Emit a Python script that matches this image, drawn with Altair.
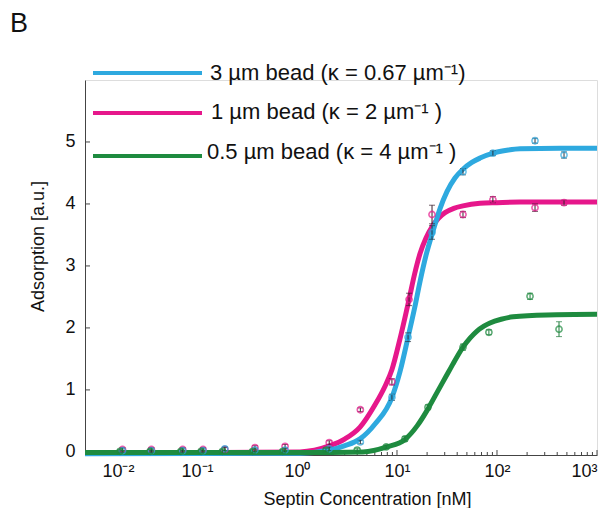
import altair as alt
import pandas as pd

# ---------------- data ----------------
series_names = ["3 µm bead", "1 µm bead", "0.5 µm bead"]
series_colors = ["#2EA9DF", "#E6178B", "#1E8B3F"]
errbar_colors = ["#2b3440", "#3b1f2c", "#1E7A3A"]
legend_labels = ["3 µm bead (κ = 0.67 µm⁻¹)", "1 µm bead (κ = 2 µm⁻¹ )", "0.5 µm bead (κ = 4 µm⁻¹ )"]

# measured points: septin concentration [nM], adsorption [a.u.], error
conc_3um = [0.018, 0.035, 0.072, 0.115, 0.19, 0.38, 0.76, 2.1, 4.3, 8.9, 12.9, 22.4, 45.7, 91, 240, 468]
ads_3um = [0.02, 0.02, 0.02, 0.02, 0.05, 0.03, 0.03, 0.05, 0.16, 0.88, 1.85, 3.54, 4.52, 4.82, 5.02, 4.79]
err_3um = [0.03, 0.03, 0.03, 0.03, 0.03, 0.03, 0.03, 0.03, 0.03, 0.05, 0.07, 0.11, 0.05, 0.04, 0.04, 0.05]

conc_1um = [0.018, 0.035, 0.072, 0.115, 0.19, 0.38, 0.76, 2.1, 4.3, 8.9, 13.2, 22.4, 45.7, 91, 240, 468]
ads_1um = [0.04, 0.04, 0.04, 0.04, 0.04, 0.07, 0.09, 0.15, 0.68, 1.13, 2.46, 3.83, 3.83, 4.07, 3.94, 4.02]
err_1um = [0.03, 0.03, 0.03, 0.03, 0.03, 0.03, 0.03, 0.03, 0.03, 0.05, 0.10, 0.15, 0.05, 0.05, 0.06, 0.04]

conc_05um = [0.017, 0.034, 0.069, 0.11, 0.18, 0.36, 0.72, 1.95, 4.0, 7.8, 12.0, 20.4, 45.7, 83, 214, 417]
ads_05um = [0.01, 0.01, 0.01, 0.01, 0.01, 0.01, 0.01, 0.03, 0.03, 0.08, 0.21, 0.72, 1.69, 1.93, 2.51, 1.98]
err_05um = [0.03, 0.03, 0.03, 0.03, 0.03, 0.03, 0.03, 0.03, 0.03, 0.03, 0.04, 0.04, 0.05, 0.04, 0.05, 0.12]

# fitted curves
fit_x_3um = [0.0076, 1.07, 2.14, 3.02, 4.27, 6.03, 8.91, 10.7, 12.9, 15.0, 17.0, 19.5, 22.9, 27.0, 31.6, 38.0, 45.7, 56.0, 67.6, 91.2, 130, 170, 427, 1000]
fit_y_3um = [-0.03, -0.02, 0.03, 0.10, 0.21, 0.45, 0.88, 1.29, 1.85, 2.32, 2.75, 3.17, 3.56, 3.93, 4.20, 4.42, 4.56, 4.67, 4.74, 4.82, 4.87, 4.89, 4.90, 4.90]

fit_x_1um = [0.0076, 1.07, 2.14, 3.02, 4.27, 6.03, 7.59, 8.91, 10.7, 13.2, 15.0, 17.0, 19.5, 22.4, 26.0, 30.2, 37.0, 45.7, 67.6, 100, 170, 1000]
fit_y_1um = [-0.02, 0.0, 0.10, 0.21, 0.40, 0.76, 1.06, 1.33, 1.82, 2.46, 2.87, 3.20, 3.45, 3.63, 3.77, 3.86, 3.93, 3.97, 4.01, 4.02, 4.03, 4.03]

fit_x_05um = [0.0076, 1.07, 4.57, 7.94, 12.0, 15.9, 20.0, 24.0, 28.8, 32.5, 36.3, 40.7, 45.7, 54.0, 63.1, 74.0, 85.1, 110, 145, 316, 1000]
fit_y_05um = [-0.01, -0.01, 0.0, 0.08, 0.20, 0.42, 0.67, 0.90, 1.13, 1.28, 1.42, 1.56, 1.69, 1.84, 1.95, 2.03, 2.08, 2.14, 2.18, 2.21, 2.22]

# axis ticks
x_major_ticks = [0.01, 0.1, 1, 10, 100, 1000]
x_minor_ticks = [0.008, 0.009] + [m * d for d in [0.01, 0.1, 1, 10, 100] for m in range(2, 10)]
y_ticks = [0, 1, 2, 3, 4, 5]

# ---------------- chart ----------------
W, H = 512, 375
FONT = "Liberation Sans"
xscale = alt.Scale(type="log", domain=[0.00759, 1000], nice=False)
yscale = alt.Scale(domain=[-0.05, 6.0], nice=False, zero=False)

label_expr = ("datum.value < 0.05 ? '10⁻²' : datum.value < 0.5 ? '10⁻¹' : "
              "datum.value < 5 ? '10⁰' : datum.value < 50 ? '10¹' : "
              "datum.value < 500 ? '10²' : '10³'")

x_axis = alt.Axis(values=x_major_ticks, labelExpr=label_expr, ticks=False, tickSize=0,
                  grid=False, domain=True, domainColor="#444", domainWidth=1,
                  labelPadding=7, labelFontSize=18, labelColor="#111", labelFont=FONT,
                  labelOffset={"condition": {"test": "datum.value < 0.015", "value": 21}, "value": 0},
                  title="Septin Concentration [nM]", titleFontSize=18, titleFontWeight="normal",
                  titleFont=FONT, titleColor="#111", titleX=282, titleY=44, titleBaseline="middle")
y_axis = alt.Axis(values=y_ticks, format="d", ticks=False, tickSize=0, grid=False, domain=True,
                  domainColor="#444", domainWidth=1, labelPadding=10, labelFontSize=18,
                  labelColor="#111", labelFont=FONT,
                  title="Adsorption [a.u.]", titleFontSize=18, titleFontWeight="normal",
                  titleFont=FONT, titleColor="#111", titleX=-47, titleY=166,
                  titleBaseline="middle", titleAngle=270)

fits = [(fit_x_3um, fit_y_3um), (fit_x_1um, fit_y_1um), (fit_x_05um, fit_y_05um)]
pts = [(conc_3um, ads_3um, err_3um), (conc_1um, ads_1um, err_1um), (conc_05um, ads_05um, err_05um)]

layers = []

# axes anchor layer (invisible) carrying axis definitions
anchor = alt.Chart(pd.DataFrame({"x": [1.0], "y": [0.0]})).mark_point(opacity=0).encode(
    x=alt.X("x:Q", scale=xscale, axis=x_axis),
    y=alt.Y("y:Q", scale=yscale, axis=y_axis),
)
layers.append(anchor)

# manual inward ticks
xt_major = alt.Chart(pd.DataFrame({"x": x_major_ticks})).mark_rule(color="#444", strokeWidth=1).encode(
    x=alt.X("x:Q", scale=xscale), y=alt.value(H), y2=alt.value(H - 5))
xt_minor = alt.Chart(pd.DataFrame({"x": x_minor_ticks})).mark_rule(color="#444", strokeWidth=1).encode(
    x=alt.X("x:Q", scale=xscale), y=alt.value(H), y2=alt.value(H - 3))
yt = alt.Chart(pd.DataFrame({"y": y_ticks})).mark_rule(color="#444", strokeWidth=1).encode(
    y=alt.Y("y:Q", scale=yscale), x=alt.value(0), x2=alt.value(5))
layers += [xt_major, xt_minor, yt]

# fitted lines: magenta, blue, green (green on top)
for i in [1, 0, 2]:
    fx, fy = fits[i]
    df = pd.DataFrame({"x": fx, "y": fy})
    layers.append(alt.Chart(df).mark_line(color=series_colors[i], strokeWidth=5, interpolate="monotone").encode(
        x=alt.X("x:Q", scale=xscale), y=alt.Y("y:Q", scale=yscale)))

# points with error bars
for i in [1, 0, 2]:
    cx, cy, ce = pts[i]
    df = pd.DataFrame({"x": cx, "y": cy, "lo": [a - e for a, e in zip(cy, ce)],
                       "hi": [a + e for a, e in zip(cy, ce)]})
    base = alt.Chart(df)
    layers.append(base.mark_rule(color=errbar_colors[i], strokeWidth=1).encode(
        x=alt.X("x:Q", scale=xscale), y=alt.Y("lo:Q", scale=yscale), y2="hi:Q"))
    layers.append(base.mark_tick(color=errbar_colors[i], orient="horizontal", size=6, thickness=1).encode(
        x=alt.X("x:Q", scale=xscale), y=alt.Y("lo:Q", scale=yscale)))
    layers.append(base.mark_tick(color=errbar_colors[i], orient="horizontal", size=6, thickness=1).encode(
        x=alt.X("x:Q", scale=xscale), y=alt.Y("hi:Q", scale=yscale)))
    layers.append(base.mark_point(shape="circle", filled=False, color=series_colors[i], size=38,
                                  strokeWidth=1.6).encode(
        x=alt.X("x:Q", scale=xscale), y=alt.Y("y:Q", scale=yscale)))

# manual legend
leg_line_y = [-7, 33, 76]
leg_text_pos = [(125, -7), (126, 32), (122, 72)]
for i in range(3):
    one = pd.DataFrame({"label": [legend_labels[i]]})
    layers.append(alt.Chart(one).mark_rule(color=series_colors[i], strokeWidth=4).encode(
        x=alt.value(8), x2=alt.value(117), y=alt.value(leg_line_y[i])))
    layers.append(alt.Chart(one).mark_text(align="left", baseline="middle", fontSize=22, font=FONT,
                                           color="#111").encode(
        x=alt.value(leg_text_pos[i][0]), y=alt.value(leg_text_pos[i][1]), text="label:N"))

# panel letter
layers.append(alt.Chart(pd.DataFrame({"label": ["B"]})).mark_text(
    align="left", baseline="middle", fontSize=27, font=FONT, color="#111").encode(
    x=alt.value(-75), y=alt.value(-56), text="label:N"))

chart = alt.layer(*layers).properties(
    width=W, height=H,
    autosize=alt.AutoSizeParams(type="none"),
    padding={"left": 77, "top": 72, "right": 3, "bottom": 53},
    background="white",
).configure_view(stroke=None).configure(font=FONT)

chart.save("out.html", embed_options={"renderer": "svg", "actions": False})
